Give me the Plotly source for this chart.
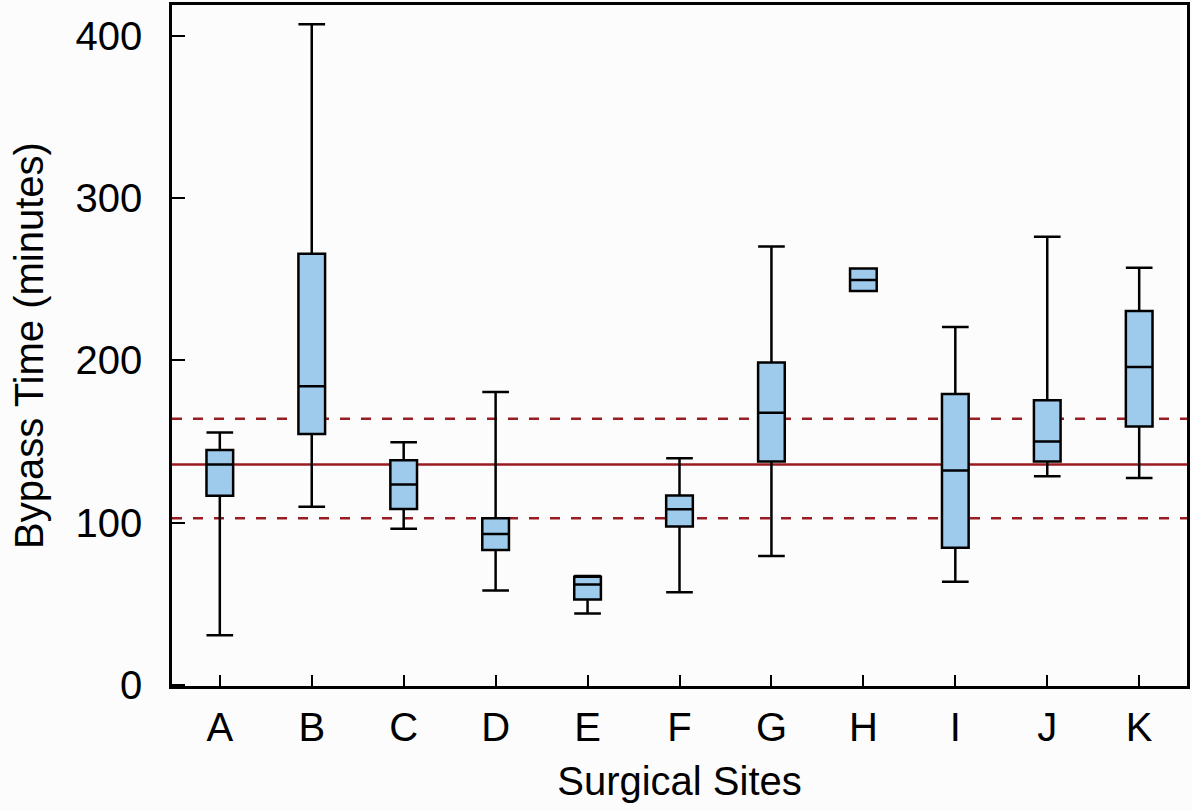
import plotly.graph_objects as go

sites = ["A", "B", "C", "D", "E", "F", "G", "H", "I", "J", "K"]
lower_whisker = [30.4, 109.8, 96.2, 58.0, 43.8, 57.0, 79.3, 242.9, 63.4, 128.6, 127.4]
q1 = [116.5, 154.6, 108.4, 83.0, 52.5, 97.6, 137.7, 242.9, 84.5, 137.7, 159.3]
median = [135.8, 184.1, 123.5, 92.9, 61.8, 108.2, 167.8, 249.7, 132.1, 150.0, 196.0]
q3 = [144.7, 265.8, 138.5, 102.6, 66.5, 116.6, 198.8, 256.7, 179.3, 175.4, 230.5]
upper_whisker = [155.6, 407.5, 149.6, 180.6, 67.0, 139.7, 270.3, 256.7, 220.6, 276.3, 257.3]

overall_center = 135.8
band_upper = 164.0
band_lower = 102.7

y_ticks = [0, 100, 200, 300, 400]

font_family = "Liberation Sans, Arial, sans-serif"
red = "#9B1B22"

fig = go.Figure()
fig.add_trace(go.Box(
    x=sites,
    q1=q1, median=median, q3=q3,
    lowerfence=lower_whisker, upperfence=upper_whisker,
    fillcolor="#9ECBEB",
    line=dict(color="black", width=2.5),
    width=0.29,
    whiskerwidth=1,
    boxpoints=False,
    showlegend=False,
    hoverinfo="skip",
))

for val, dash in [(overall_center, "solid"), (band_upper, "10px,11px"), (band_lower, "10px,11px")]:
    fig.add_shape(type="line", xref="paper", x0=0, x1=1, yref="y", y0=val, y1=val,
                  line=dict(color=red, width=2.5, dash=dash), layer="below")

fig.update_layout(
    width=1192, height=811,
    margin=dict(l=172, r=5, t=5, b=125, autoexpand=False),
    paper_bgcolor="#FCFCFC",
    plot_bgcolor="#FCFCFC",
    font=dict(family=font_family, size=40, color="black"),
    xaxis=dict(
        type="category",
        range=[-0.52, 10.52],
        showline=True, linecolor="black", linewidth=2.5, mirror=True,
        ticks="inside", ticklen=11, tickwidth=2, tickcolor="black",
        ticklabelstandoff=4,
        showgrid=False, zeroline=False,
        title=dict(text="Surgical Sites", font=dict(size=40), standoff=20),
    ),
    yaxis=dict(
        range=[-0.9, 419.4],
        tickvals=y_ticks,
        showline=True, linecolor="black", linewidth=2.5, mirror=True,
        ticks="inside", ticklen=13, tickwidth=2, tickcolor="black",
        ticklabelstandoff=19,
        showgrid=False, zeroline=False,
        title=dict(text="Bypass Time (minutes)", font=dict(size=40), standoff=20),
    ),
)

fig.write_html(
    "out.html",
    config={"displayModeBar": False},
    post_script="document.body.style.margin='0';document.body.style.background='#FCFCFC';",
)
